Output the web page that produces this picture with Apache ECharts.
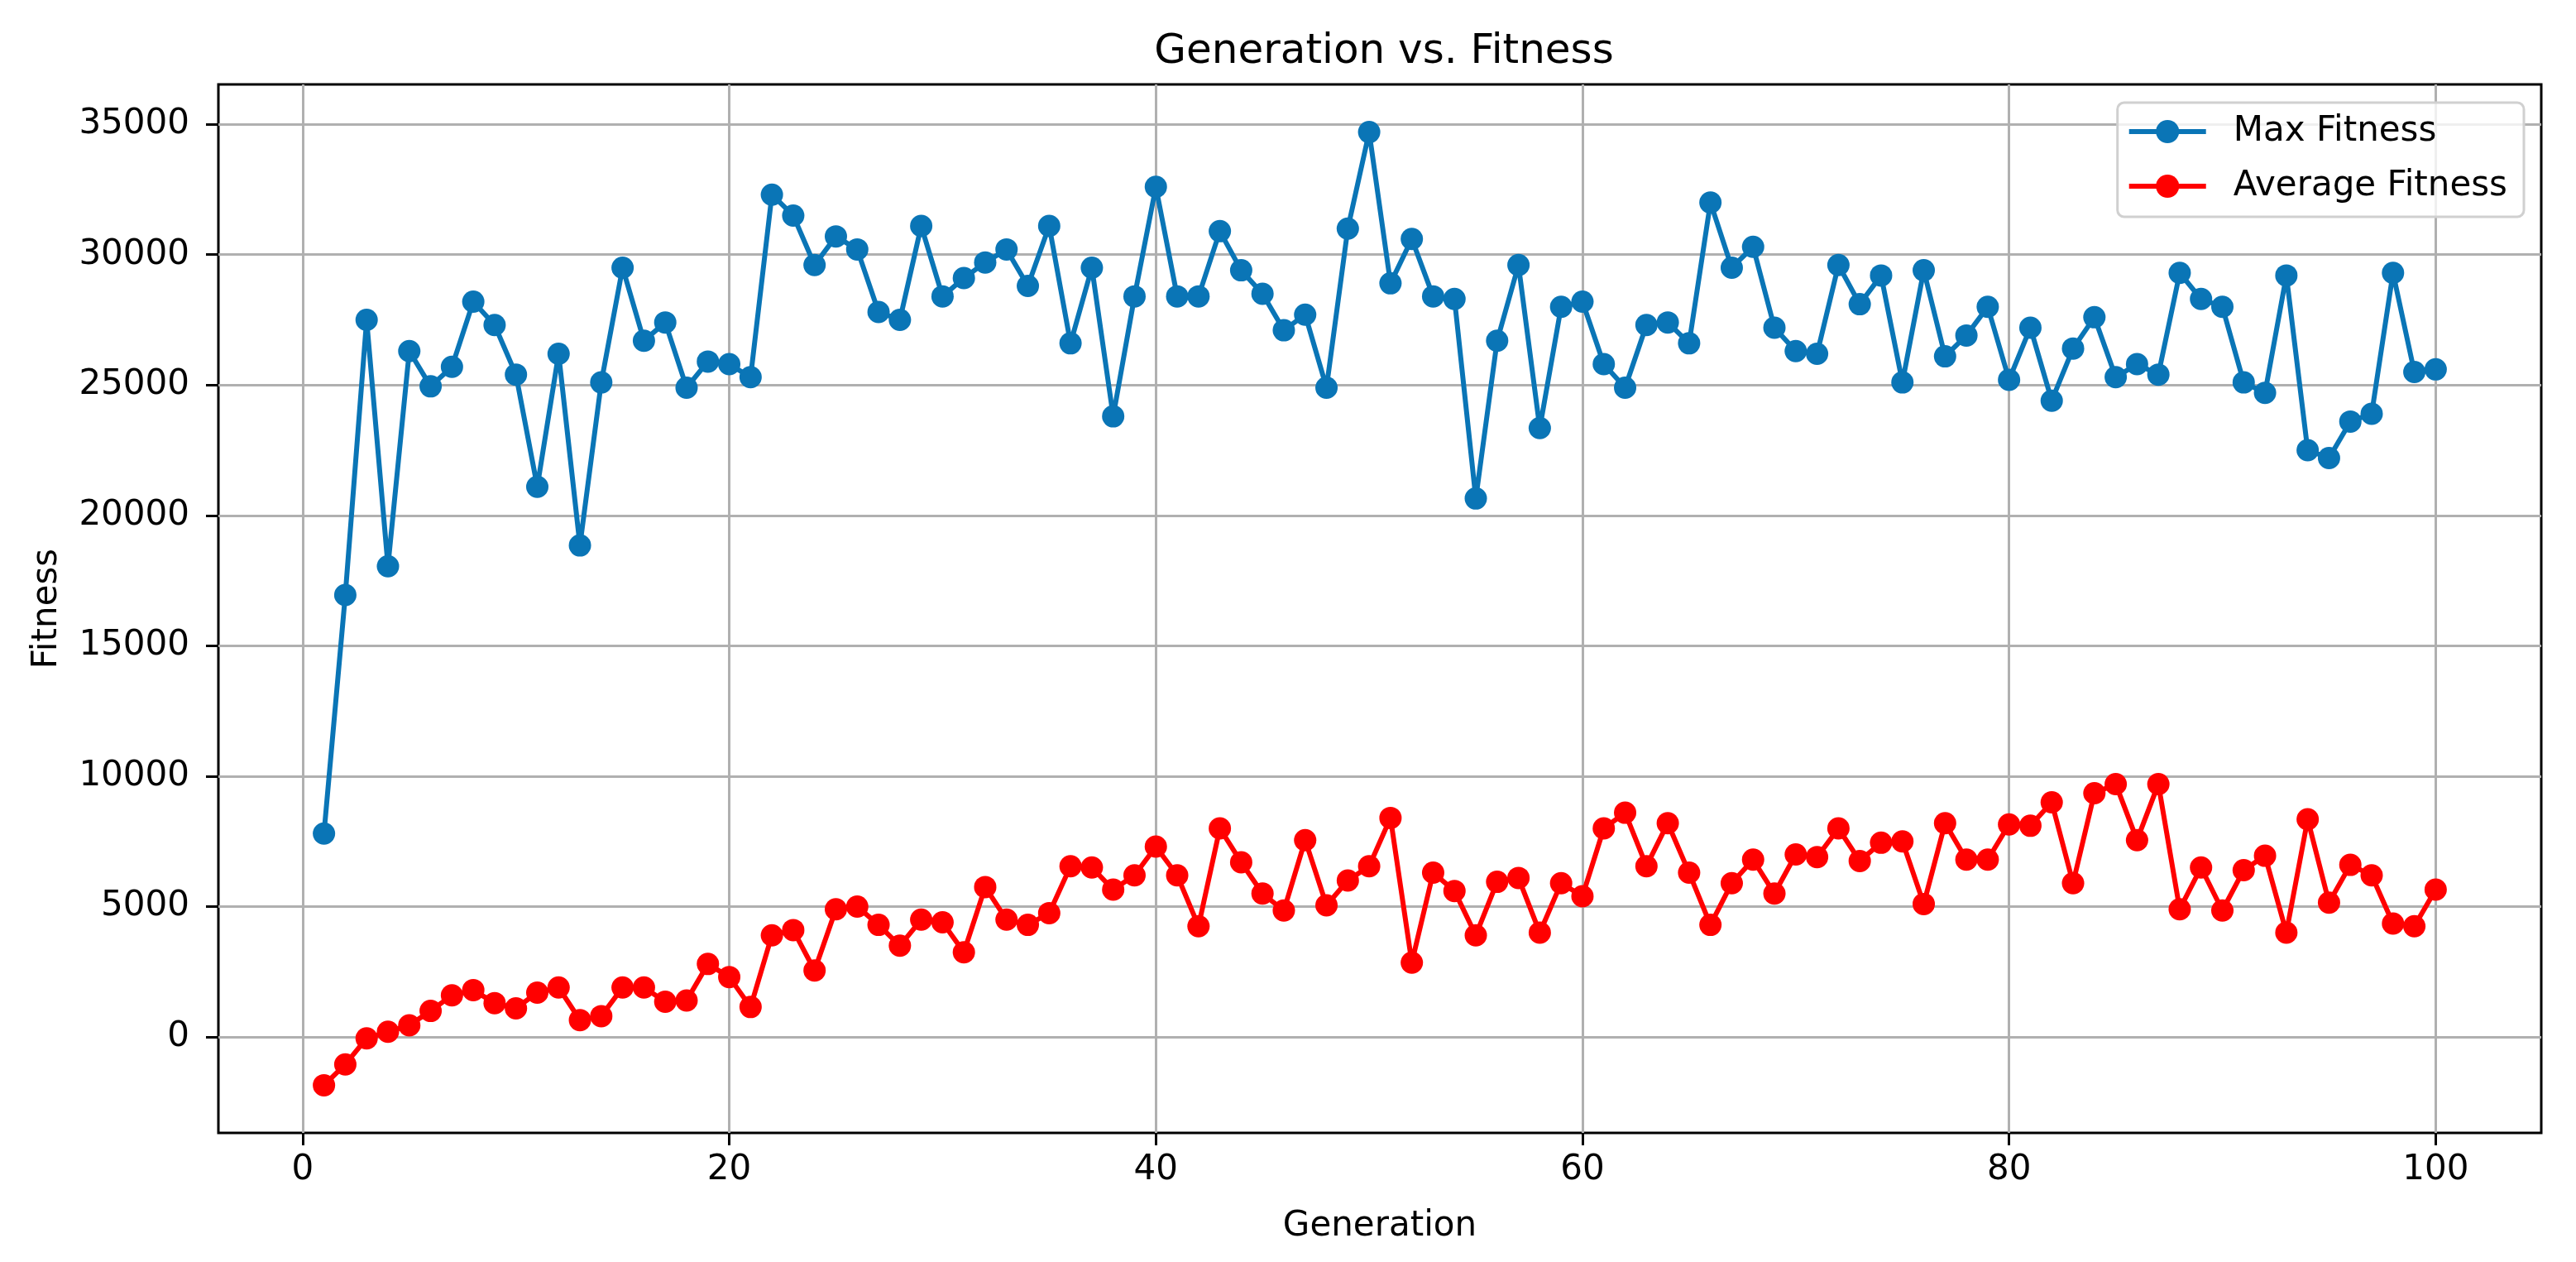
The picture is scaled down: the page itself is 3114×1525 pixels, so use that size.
<!DOCTYPE html>
<html>
<head>
<meta charset="utf-8">
<script src="https://cdn.jsdelivr.net/npm/echarts@6/dist/echarts.min.js"></script>
<style>
html,body{margin:0;padding:0;background:#fff;}
#chart{width:3114px;height:1525px;}
</style>
</head>
<body>
<div id="chart"></div>
<script>
const generations = Array.from({length: 100}, (_, i) => i + 1);

const maxFitness = [
  7800, 16950, 27500, 18050, 26300, 24950, 25700, 28200, 27300, 25400,
  21100, 26200, 18850, 25100, 29500, 26700, 27400, 24900, 25900, 25800,
  25300, 32300, 31500, 29600, 30700, 30200, 27800, 27500, 31100, 28400,
  29100, 29700, 30200, 28800, 31100, 26600, 29500, 23800, 28400, 32600,
  28400, 28400, 30900, 29400, 28500, 27100, 27700, 24900, 31000, 34700,
  28900, 30600, 28400, 28300, 20650, 26700, 29600, 23350, 28000, 28200,
  25800, 24900, 27300, 27400, 26600, 32000, 29500, 30300, 27200, 26300,
  26200, 29600, 28100, 29200, 25100, 29400, 26100, 26900, 28000, 25200,
  27200, 24400, 26400, 27600, 25300, 25800, 25400, 29300, 28300, 28000,
  25100, 24700, 29200, 22500, 22200, 23600, 23900, 29300, 25500, 25600
];

const avgFitness = [
  -1850, -1050, -50, 200, 450, 1000, 1600, 1800, 1300, 1100,
  1700, 1900, 650, 800, 1900, 1900, 1350, 1400, 2800, 2300,
  1150, 3900, 4100, 2550, 4900, 5000, 4300, 3500, 4500, 4400,
  3250, 5750, 4500, 4300, 4750, 6550, 6500, 5650, 6200, 7300,
  6200, 4250, 8000, 6700, 5500, 4850, 7550, 5050, 6000, 6550,
  8400, 2850, 6300, 5600, 3900, 5950, 6100, 4000, 5900, 5400,
  8000, 8600, 6550, 8200, 6300, 4300, 5900, 6800, 5500, 7000,
  6900, 8000, 6750, 7450, 7500, 5100, 8200, 6800, 6800, 8150,
  8100, 9000, 5900, 9350, 9700, 7550, 9700, 4900, 6500, 4850,
  6400, 6950, 4000, 8350, 5150, 6600, 6200, 4350, 4250, 5650
];

const xTicks = [0, 20, 40, 60, 80, 100];
const yTicks = [0, 5000, 10000, 15000, 20000, 25000, 30000, 35000];

const seriesNames = ['Max Fitness', 'Average Fitness'];

// matplotlib-style 5% margins around data
const xMinD = Math.min(...generations), xMaxD = Math.max(...generations);
const xPad = (xMaxD - xMinD) * 0.05;
const allY = maxFitness.concat(avgFitness);
const yMinD = Math.min(...allY), yMaxD = Math.max(...allY);
const yPad = (yMaxD - yMinD) * 0.05;

const FONT = 'DejaVu Sans';
const chart = echarts.init(document.getElementById('chart'), null, {renderer: 'canvas'});

const option = {
  animation: false,
  backgroundColor: '#ffffff',
  title: {
    text: 'Generation vs. Fitness',
    left: 1668,
    textAlign: 'center',
    top: 33,
    textStyle: {fontFamily: FONT, fontSize: 50, fontWeight: 'normal', color: '#000'}
  },
  legend: {
    data: seriesNames,
    orient: 'vertical',
    right: 63,
    top: 124,
    itemWidth: 93,
    itemHeight: 35,
    itemGap: 24,
    padding: [14, 20, 16, 11],
    borderColor: '#d0d0d0',
    borderWidth: 3,
    borderRadius: 8,
    backgroundColor: 'rgba(255,255,255,0.8)',
    selectedMode: false,
    lineStyle: {width: 6},
    textStyle: {fontFamily: FONT, fontSize: 42, color: '#000', padding: [0, 0, 0, 28]}
  },
  grid: {
    left: 264, right: 42, top: 102, bottom: 156,
    show: true,
    borderColor: '#000',
    borderWidth: 3,
    backgroundColor: '#fff',
    containLabel: false
  },
  xAxis: {
    type: 'value',
    min: xMinD - xPad,
    max: xMaxD + xPad,
    name: 'Generation',
    nameLocation: 'middle',
    nameGap: 92,
    nameTextStyle: {fontFamily: FONT, fontSize: 42, color: '#000'},
    axisLine: {show: false, onZero: false},
    axisTick: {show: true, inside: false, customValues: xTicks, length: 15, lineStyle: {color: '#000', width: 3}},
    axisLabel: {customValues: xTicks, fontFamily: FONT, fontSize: 42, color: '#000', margin: 24,
      formatter: v => String(v)},
    splitLine: {show: true, lineStyle: {color: '#b0b0b0', width: 3}}
  },
  yAxis: {
    type: 'value',
    min: yMinD - yPad,
    max: yMaxD + yPad,
    name: 'Fitness',
    nameLocation: 'middle',
    nameGap: 186,
    nameRotate: 90,
    nameTextStyle: {fontFamily: FONT, fontSize: 42, color: '#000'},
    axisLine: {show: false, onZero: false},
    axisTick: {show: true, inside: false, customValues: yTicks, length: 15, lineStyle: {color: '#000', width: 3}},
    axisLabel: {customValues: yTicks, fontFamily: FONT, fontSize: 42, color: '#000', margin: 35,
      formatter: v => String(v)},
    splitLine: {show: true, lineStyle: {color: '#b0b0b0', width: 3}}
  },
  series: [
    {
      name: seriesNames[0],
      type: 'line',
      data: generations.map((g, i) => [g, maxFitness[i]]),
      symbol: 'circle',
      symbolSize: 27,
      color: '#0a75b6',
      lineStyle: {width: 6, color: '#0a75b6'},
      itemStyle: {color: '#0a75b6'},
      z: 3
    },
    {
      name: seriesNames[1],
      type: 'line',
      data: generations.map((g, i) => [g, avgFitness[i]]),
      symbol: 'circle',
      symbolSize: 27,
      color: '#ff0000',
      lineStyle: {width: 6, color: '#ff0000'},
      itemStyle: {color: '#ff0000'},
      z: 4
    }
  ]
};
chart.setOption(option);
</script>
</body>
</html>
